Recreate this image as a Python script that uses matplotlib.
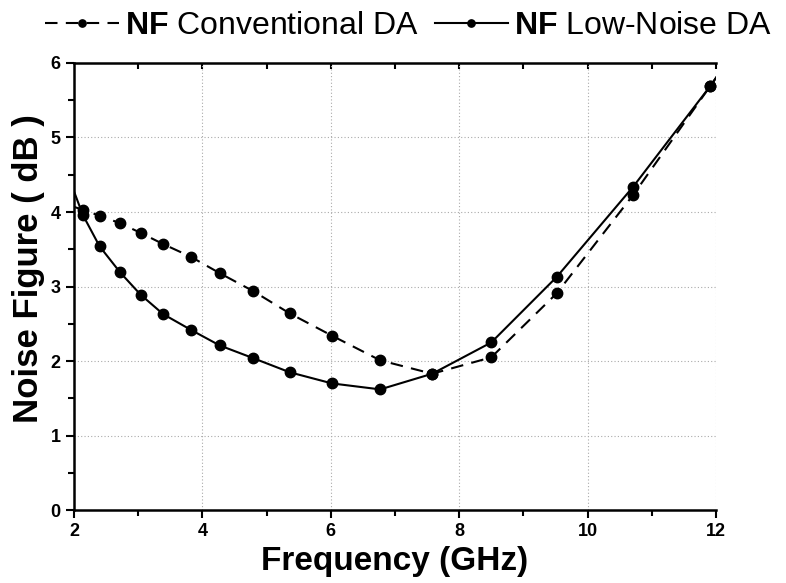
import matplotlib.pyplot as plt
from matplotlib.ticker import MultipleLocator

plt.rcParams['font.family'] = ['Liberation Sans', 'DejaVu Sans']
plt.rcParams['mathtext.fontset'] = 'custom'
plt.rcParams['mathtext.bf'] = 'Liberation Sans:bold'

# frequency points (GHz); first and last entries carry the line to the axis edges
freq = [2.0, 2.14, 2.40, 2.72, 3.04, 3.39, 3.82, 4.27, 4.79, 5.36, 6.02,
        6.77, 7.58, 8.50, 9.52, 10.71, 11.91, 12.1]
nf_conv = [4.07, 4.03, 3.95, 3.85, 3.72, 3.57, 3.40, 3.18, 2.94, 2.64, 2.34,
           2.01, 1.83, 2.05, 2.91, 4.23, 5.69, 5.93]
nf_lownoise = [4.28, 3.96, 3.54, 3.19, 2.89, 2.63, 2.42, 2.21, 2.04, 1.85, 1.70,
               1.62, 1.83, 2.25, 3.13, 4.34, 5.69, 5.92]

fig = plt.figure(figsize=(7.86, 5.83), dpi=100)
ax = fig.add_axes([0.094, 0.125, 0.817, 0.767])

marks = list(range(1, len(freq) - 1))
ax.plot(freq, nf_conv, color='black', lw=1.5, ls=(0, (6, 4)), marker='o', ms=7.5,
        markevery=marks, label=r'$\mathbf{NF}$ Conventional DA')
ax.plot(freq, nf_lownoise, color='black', lw=1.5, ls='-', marker='o', ms=7.5,
        markevery=marks, label=r'$\mathbf{NF}$ Low-Noise DA')

ax.set_xlim(2, 12)
ax.set_ylim(0, 6)
ax.xaxis.set_major_locator(MultipleLocator(2))
ax.xaxis.set_minor_locator(MultipleLocator(1))
ax.yaxis.set_major_locator(MultipleLocator(1))
ax.yaxis.set_minor_locator(MultipleLocator(0.5))
ax.grid(True, which='major', ls=(0, (1, 2)), color='#aaaaaa', lw=0.8)

ax.spines['right'].set_visible(False)
for s in ['left', 'bottom', 'top']:
    ax.spines[s].set_linewidth(1.8)
ax.tick_params(which='both', direction='out', width=1.5, top=False, right=False)
ax.tick_params(which='major', length=6)
ax.tick_params(which='minor', length=4)

# small inward ticks along the top edge
top = ax.secondary_xaxis('top')
top.set_xticks(range(3, 13))
top.tick_params(direction='in', length=4, width=1.5, labeltop=False)
top.spines['top'].set_visible(False)

for lab in ax.get_xticklabels() + ax.get_yticklabels():
    lab.set_fontweight('bold')
    lab.set_fontsize(13)

ax.set_xlabel('Frequency (GHz)', fontsize=24, fontweight='bold', labelpad=4)
ax.set_ylabel('Noise Figure ( dB )', fontsize=25, fontweight='bold')
ax.yaxis.set_label_coords(-0.045, 0.54)

leg = fig.legend(loc='upper center', bbox_to_anchor=(0.52, 1.03), ncol=2, frameon=False,
                 fontsize=23, handlelength=2.3, columnspacing=0.5, handletextpad=0.2,
                 markerscale=0.7)

fig.savefig('out.png', dpi=100)
